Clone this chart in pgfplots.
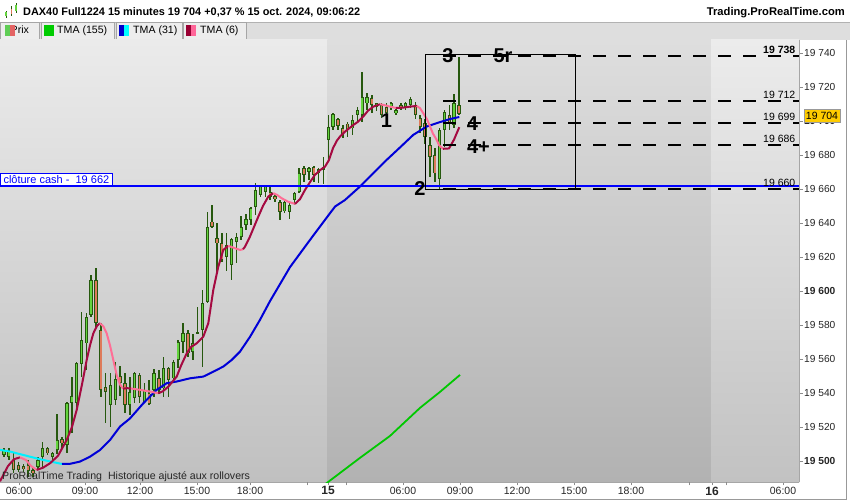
\documentclass[border=0pt]{standalone}
\usepackage{pgfplots}
\pgfplotsset{compat=1.18}
\usepackage{pgfplotstable}
\usepackage{fontspec}
\setmainfont{Liberation Sans}

\definecolor{wickc}{RGB}{38,88,14}
\definecolor{upc}{RGB}{100,212,62}
\definecolor{dnc}{RGB}{222,122,90}
\definecolor{crim}{RGB}{165,10,65}
\definecolor{pinkc}{RGB}{255,110,150}
\definecolor{bluec}{RGB}{0,0,215}
\definecolor{cyanc}{RGB}{0,240,255}
\definecolor{greenc}{RGB}{0,200,0}
\definecolor{hline}{RGB}{0,0,255}
\definecolor{tagy}{RGB}{255,204,0}
\definecolor{swg}{RGB}{95,205,85}
\definecolor{swr}{RGB}{228,100,100}
\definecolor{swgreen}{RGB}{0,204,0}
\definecolor{swblue}{RGB}{0,0,204}
\definecolor{swcyan}{RGB}{0,255,255}
\definecolor{swcrim}{RGB}{153,0,51}
\definecolor{swpink}{RGB}{255,102,153}
\definecolor{bgAt}{RGB}{235,235,235}
\definecolor{bgAb}{RGB}{192,192,192}
\definecolor{bgBt}{RGB}{222,222,222}
\definecolor{bgBb}{RGB}{178,178,178}
\definecolor{bgCt}{RGB}{236,236,236}
\definecolor{bgCb}{RGB}{194,194,194}

\pgfplotstableread{
i o h l c
0 19503.5 19507.5 19502.5 19506.5
1 19502.5 19507.5 19500.6 19506.0
2 19500.6 19504.5 19492.7 19494.7
3 19497.6 19499.6 19493.7 19495.0
4 19497.0 19498.6 19493.7 19495.0
5 19497.6 19500.6 19490.8 19494.0
6 19494.7 19496.7 19490.8 19493.0
7 19496.7 19502.5 19494.7 19500.6
8 19502.5 19511.4 19496.7 19507.5
9 19507.5 19508.4 19503.5 19504.5
10 19502.5 19505.5 19500.6 19505.0
11 19506.5 19528.0 19504.5 19512.3
12 19513.3 19514.3 19507.5 19510.4
13 19509.4 19534.9 19504.5 19533.9
14 19534.0 19549.6 19516.3 19538.0
15 19533.9 19558.4 19530.0 19557.4
16 19557.4 19587.8 19549.6 19571.2
17 19569.2 19587.0 19553.5 19585.0
18 19586.0 19609.4 19584.9 19606.4
19 19606.4 19613.3 19579.0 19581.0
20 19577.0 19581.0 19537.8 19541.7
21 19543.7 19551.6 19522.2 19540.8
22 19533.0 19551.6 19520.0 19545.0
23 19536.0 19558.0 19533.0 19548.0
24 19550.0 19556.0 19538.0 19546.0
25 19546.0 19552.0 19528.0 19533.0
26 19532.9 19549.6 19527.1 19540.8
27 19536.9 19552.5 19533.9 19552.0
28 19550.6 19551.6 19533.9 19537.8
29 19534.9 19545.7 19533.9 19541.8
30 19539.8 19547.6 19532.9 19533.9
31 19541.8 19554.5 19537.8 19551.6
32 19548.6 19553.5 19539.8 19541.8
33 19542.7 19561.4 19537.8 19554.5
34 19554.5 19555.5 19537.8 19547.6
35 19548.6 19559.4 19545.7 19558.4
36 19559.4 19571.2 19554.5 19570.2
37 19570.2 19581.0 19563.3 19575.1
38 19575.1 19577.1 19561.4 19563.3
39 19564.3 19575.1 19559.4 19569.2
40 19576.1 19590.8 19575.1 19575.1
41 19577.1 19600.6 19555.5 19592.7
42 19593.7 19646.7 19592.7 19637.8
43 19640.8 19650.6 19636.9 19637.8
44 19631.0 19639.8 19610.4 19628.0
45 19628.0 19633.9 19617.2 19618.2
46 19620.2 19633.9 19611.4 19627.0
47 19615.3 19631.0 19606.5 19630.4
48 19629.0 19633.9 19616.3 19632.0
49 19632.0 19644.1 19630.0 19637.9
50 19638.8 19645.3 19635.9 19642.2
51 19641.8 19649.6 19638.8 19648.6
52 19649.6 19663.4 19644.7 19659.4
53 19656.5 19662.4 19655.5 19661.8
54 19658.4 19662.4 19655.5 19661.8
55 19657.9 19661.8 19653.5 19655.5
56 19655.9 19657.5 19652.6 19653.9
57 19652.6 19653.5 19641.8 19646.7
58 19646.7 19653.5 19645.7 19652.0
59 19646.7 19651.6 19642.2 19650.6
60 19653.5 19658.4 19650.6 19657.9
61 19658.4 19672.2 19657.5 19669.6
62 19672.2 19673.5 19664.3 19668.3
63 19670.2 19673.1 19665.3 19672.2
64 19672.8 19673.5 19664.3 19668.3
65 19669.2 19672.2 19663.3 19671.6
66 19673.1 19679.0 19663.3 19671.2
67 19688.8 19703.5 19677.1 19696.7
68 19696.7 19704.5 19694.7 19704.1
69 19701.0 19701.6 19694.7 19697.1
70 19695.7 19697.6 19689.8 19691.8
71 19698.6 19699.6 19690.8 19694.7
72 19695.7 19703.5 19691.8 19700.6
73 19703.5 19708.4 19698.6 19706.5
74 19703.5 19729.0 19699.6 19714.3
75 19710.4 19716.7 19706.5 19714.3
76 19713.3 19715.3 19704.5 19709.4
77 19708.4 19710.4 19705.5 19710.4
78 19709.4 19710.4 19701.6 19703.5
79 19708.4 19710.4 19702.6 19704.5
80 19708.4 19711.4 19706.5 19710.8
81 19704.5 19707.5 19703.5 19706.5
82 19709.4 19710.4 19706.5 19707.5
83 19708.4 19711.4 19706.5 19710.4
84 19709.5 19714.0 19707.5 19713.0
85 19709.4 19711.3 19701.5 19703.5
86 19701.5 19703.5 19692.7 19696.6
87 19698.6 19701.5 19686.8 19690.8
88 19685.9 19690.8 19667.2 19679.0
89 19680.0 19683.9 19664.3 19669.2
90 19666.2 19695.7 19659.4 19694.7
91 19694.7 19706.4 19684.9 19705.5
92 19703.5 19709.4 19694.7 19698.6
93 19697.6 19716.2 19695.7 19710.4
94 19709.4 19738.0 19703.5 19704.0
}\candles

\begin{document}
\begin{tikzpicture}
\useasboundingbox (0pt,0pt) rectangle (850pt,500pt);
\fill[white] (0pt,0pt) rectangle (850pt,500pt);
% legend row
\fill[black!13] (0pt,460pt) rectangle (850pt,478pt);
\draw[black!30] (0pt,478pt) -- (850pt,478pt);
\foreach \a/\b in {0.5/39.5,41/114.5,116/182.5,183.5/246}{
  \draw[draw=black!35, fill=black!7] (\a pt,460.5pt) rectangle (\b pt,477.5pt);
}
\node[anchor=base west, inner sep=0, font=\fontsize{10.6}{12}\selectfont] at (10.5pt,466pt) {Prix};
\fill[swg] (5pt,464pt) rectangle (10pt,475pt);
\fill[swr] (10pt,464pt) rectangle (15pt,475pt);
\fill[swgreen] (44pt,464pt) rectangle (54pt,475pt);
\node[anchor=base west, inner sep=0, font=\fontsize{10.6}{12}\selectfont] at (57pt,466pt) {TMA (155)};
\fill[swblue] (119pt,464pt) rectangle (124pt,475pt);
\fill[swcyan] (124pt,464pt) rectangle (129pt,475pt);
\node[anchor=base west, inner sep=0, font=\fontsize{10.6}{12}\selectfont] at (133pt,466pt) {TMA (31)};
\fill[swcrim] (186pt,464pt) rectangle (191pt,475pt);
\fill[swpink] (191pt,464pt) rectangle (196pt,475pt);
\node[anchor=base west, inner sep=0, font=\fontsize{10.6}{12}\selectfont] at (200pt,466pt) {TMA (6)};
% title icon
\draw[wickc, line width=1pt] (6pt,482pt) -- (6pt,489pt) (11.5pt,484pt) -- (11.5pt,494pt) (16pt,487pt) -- (16pt,497pt);
\fill[upc] (5.2pt,483.5pt) rectangle (6.8pt,487.5pt);
\fill[dnc] (10.7pt,486pt) rectangle (12.3pt,491pt);
\fill[upc] (15.2pt,489pt) rectangle (16.8pt,495pt);
\node[anchor=base west, inner sep=0, font=\bfseries\fontsize{10.9}{12}\selectfont] at (23pt,484pt) {DAX40 Full1224 15 minutes 19 704 +0,37 \% 15 oct. 2024, 09:06:22};
\node[anchor=base east, inner sep=0, font=\bfseries\fontsize{11.2}{12}\selectfont] at (845pt,484pt) {Trading.ProRealTime.com};
% day backgrounds
\shade[top color=bgAt, bottom color=bgAb] (0pt,18pt) rectangle (327.7pt,460pt);
\shade[top color=bgBt, bottom color=bgBb] (327.7pt,18pt) rectangle (711pt,460pt);
\shade[top color=bgCt, bottom color=bgCb] (711pt,18pt) rectangle (799pt,460pt);

\begin{axis}[
  at={(0pt,18pt)}, anchor=south west, scale only axis,
  width=799pt, height=442pt,
  xmin=0, xmax=799, ymin=19487.6, ymax=19747.6,
  scaled y ticks=false, scaled x ticks=false,
  axis x line*=bottom, axis y line*=right,
  axis line style={black!35},
  tick align=outside, major tick length=3.5pt,
  major tick style={black!45},
  xtick={19,85,140,197,250,328,403,460,517,574,631,712,783},
  xticklabels={06:00,09:00,12:00,15:00,18:00,{\bfseries\fontsize{12}{12}\selectfont 15},06:00,09:00,12:00,15:00,18:00,{\bfseries\fontsize{12}{12}\selectfont 16},06:00},
  extra x ticks={307,346,689,726},
  extra x tick labels={},
  extra x tick style={major tick length=3.5pt},
  xticklabel style={font=\fontsize{10.5}{12}\selectfont, inner sep=1pt, text=black!85},
  ytick={19500,19520,...,19740},
  yticklabels={\textbf{19 500},19 520,19 540,19 560,19 580,\textbf{19 600},19 620,19 640,19 660,19 680,\textbf{19 700},19 720,19 740},
  yticklabel style={font=\fontsize{10.2}{12}\selectfont, anchor=west, inner sep=1.5pt, text=black!85},
]
% wicks
\addplot[draw=none, mark=none, error bars/.cd, y dir=both, y explicit, error mark=none,
  error bar style={draw=wickc, solid, line width=1.5pt}]
  table[x expr={4+4.84*\thisrow{i}}, y expr={(\thisrow{h}+\thisrow{l})/2}, y error expr={(\thisrow{h}-\thisrow{l})/2}] {\candles};
% bodies outline
\addplot[draw=none, mark=none, error bars/.cd, y dir=both, y explicit, error mark=none,
  error bar style={draw=wickc, solid, line width=3.3pt}]
  table[x expr={4+4.84*\thisrow{i}}, y expr={(\thisrow{o}+\thisrow{c})/2}, y error expr={max(abs(\thisrow{o}-\thisrow{c})/2,0.35)}] {\candles};
% up fills
\addplot[draw=none, mark=none, error bars/.cd, y dir=both, y explicit, error mark=none,
  error bar style={draw=upc, solid, line width=1.5pt}]
  table[x expr={4+4.84*\thisrow{i}}, y expr={(\thisrow{o}+\thisrow{c})/2}, y error expr={max((\thisrow{c}-\thisrow{o})/2-0.55,0)}] {\candles};
% down fills
\addplot[draw=none, mark=none, error bars/.cd, y dir=both, y explicit, error mark=none,
  error bar style={draw=dnc, solid, line width=1.5pt}]
  table[x expr={4+4.84*\thisrow{i}}, y expr={(\thisrow{o}+\thisrow{c})/2}, y error expr={max((\thisrow{o}-\thisrow{c})/2-0.55,0)}] {\candles};

% TMA 155
\addplot[greenc, line width=1.8pt, mark=none] coordinates {(320,19484) (360,19501.8) (390,19514.7) (420,19531.2) (440,19540.6) (460,19550.6)};
% TMA 31
\addplot[cyanc, line width=2pt, mark=none] coordinates {(0,19506.5) (10,19505.5) (20,19504) (30,19502.5) (40,19501) (50,19499.7) (62,19498.2)};
\addplot[bluec, line width=2pt, mark=none] coordinates {(62,19498.2) (70,19498.3) (80,19499.6) (90,19502.5) (100,19506.4) (110,19512.3) (120,19520.2) (130,19525) (143.3,19533.9) (156.7,19541.8) (166.7,19545.7) (176.7,19546.7) (190,19548.6) (203.3,19549.6) (213.3,19552.5) (223.3,19555.5) (231.7,19559.4) (240,19564.3) (250,19573) (260,19583) (270,19594) (280,19604) (290,19614) (300,19622) (310,19630) (325,19641.8) (335,19649.6) (345,19653.5) (360,19661.4) (373.3,19669.2) (386.7,19677.1) (400,19684.4) (413.3,19691.8) (426.7,19696.7) (440,19699.3) (450,19701.1) (459.3,19702.3)};
% TMA 6
\addplot[crim, line width=2pt, mark=none] coordinates {(0,19488) (8,19497) (14,19501) (20,19502.1)};
\addplot[pinkc, line width=2pt, mark=none] coordinates {(20,19502.1) (26,19500.5) (31,19497) (36.7,19494.7)};
\addplot[crim, line width=2pt, mark=none] coordinates {(36.7,19494.7) (43,19496) (50,19498.6) (58,19503) (66.7,19512.3) (72,19520) (76.7,19530) (82,19545) (86.7,19559.4) (90,19568) (93.3,19575) (97,19579.5) (100,19581)};
\addplot[pinkc, line width=2pt, mark=none] coordinates {(100,19581) (103.5,19579) (106.7,19575) (110,19568) (113.3,19559.4) (116.7,19550.5) (120,19545) (123,19542.5)};
\addplot[crim, line width=2pt, mark=none] coordinates {(123,19542.5) (127,19542.8) (131,19542.6)};
\addplot[pinkc, line width=2pt, mark=none] coordinates {(131,19542.6) (140,19541.8) (150,19540.8) (158.3,19539.8)};
\addplot[crim, line width=2pt, mark=none] coordinates {(158.3,19539.8) (163,19541) (168.3,19543.7) (176.7,19549.6) (181,19556) (186.7,19563.3) (191,19567) (196.7,19569.2) (203.3,19573.1) (208.3,19581) (213.3,19600.6) (218.3,19614.3) (223.3,19624.1) (228.3,19626.5)};
\addplot[pinkc, line width=2pt, mark=none] coordinates {(228.3,19626.5) (235,19625.1) (240,19624.1) (243,19624.5)};
\addplot[crim, line width=2pt, mark=none] coordinates {(243,19624.5) (245,19626) (250,19632) (258.3,19643.7) (263,19650) (268.3,19655.5) (273.3,19657.5)};
\addplot[pinkc, line width=2pt, mark=none] coordinates {(273.3,19657.5) (277,19656.5) (281.7,19654.5) (288,19652.5) (295,19651.2)};
\addplot[crim, line width=2pt, mark=none] coordinates {(295,19651.2) (300,19654) (305,19659.4) (310,19664) (315,19668.3) (320,19671) (325,19673.1) (329,19677) (333,19684) (337,19688.5) (340,19690.8) (345,19693.7) (353.3,19697.6) (358,19699.5) (363.3,19702.6) (368,19706) (373.3,19708.4) (380,19709.8)};
\addplot[pinkc, line width=2pt, mark=none] coordinates {(380,19709.8) (385,19709.2) (390,19708.4) (396,19707.6)};
\addplot[crim, line width=2pt, mark=none] coordinates {(396,19707.6) (403,19707.8) (410,19708.4) (416.7,19708.8)};
\addplot[pinkc, line width=2pt, mark=none] coordinates {(416.7,19708.8) (420,19707.5) (423.3,19704.5) (427,19701) (430,19696.7) (433,19692.5) (436.7,19688.8) (439,19685.8) (443,19683.6)};
\addplot[crim, line width=2pt, mark=none] coordinates {(443,19683.6) (449,19683.8) (454,19689) (459.3,19696.3)};

% close line
\addplot[hline, line width=2pt, mark=none] coordinates {(0,19662) (799,19662)};
% dashed levels
\addplot[black, line width=2pt, mark=none, dash pattern=on 13pt off 12pt] coordinates {(443,19738) (799,19738)};
\addplot[black, line width=2pt, mark=none, dash pattern=on 13pt off 12pt] coordinates {(443,19712) (799,19712)};
\addplot[black, line width=2pt, mark=none, dash pattern=on 13pt off 12pt] coordinates {(443,19699) (799,19699)};
\addplot[black, line width=2pt, mark=none, dash pattern=on 13pt off 12pt] coordinates {(443,19686) (799,19686)};
\addplot[black, line width=2pt, mark=none, dash pattern=on 13pt off 12pt] coordinates {(443,19660) (799,19660)};
% rectangle
\addplot[black, line width=0.8pt, mark=none] coordinates {(425,19739.2) (575,19739.2) (575,19659.6) (425,19659.6) (425,19739.2)};

\node[anchor=south east, inner sep=0.5pt, yshift=1.5pt, font=\bfseries\fontsize{10.5}{12}\selectfont] at (axis cs:796,19738) {19 738};
\node[anchor=south east, inner sep=0.5pt, yshift=1.5pt, font=\fontsize{10.5}{12}\selectfont] at (axis cs:796,19712) {19 712};
\node[anchor=south east, inner sep=0.5pt, yshift=1.5pt, font=\fontsize{10.5}{12}\selectfont] at (axis cs:796,19699) {19 699};
\node[anchor=south east, inner sep=0.5pt, yshift=1.5pt, font=\fontsize{10.5}{12}\selectfont] at (axis cs:796,19686) {19 686};
\node[anchor=south east, inner sep=0.5pt, yshift=1.5pt, font=\fontsize{10.5}{12}\selectfont] at (axis cs:796,19660) {19 660};

\node[inner sep=0, font=\bfseries\fontsize{20}{20}\selectfont] at (axis cs:448,19738.5) {3};
\node[inner sep=0, font=\bfseries\fontsize{20}{20}\selectfont] at (axis cs:503,19738.5) {5r};
\node[inner sep=0, font=\bfseries\fontsize{20}{20}\selectfont] at (axis cs:472.5,19698.5) {4};
\node[inner sep=0, font=\bfseries\fontsize{20}{20}\selectfont] at (axis cs:478.5,19685) {4+};
\node[inner sep=0, font=\bfseries\fontsize{20}{20}\selectfont] at (axis cs:420,19660.3) {2};
\node[inner sep=0, font=\bfseries\fontsize{20}{20}\selectfont] at (axis cs:386.5,19700.3) {1};

\node[anchor=south west, draw=hline, line width=1pt, fill=white, text=hline, inner xsep=3pt, inner ysep=1.5pt, font=\fontsize{11}{12}\selectfont] at (axis cs:0,19662) {clôture cash -\ \ 19 662};
\end{axis}
% footer text
\node[anchor=base west, inner sep=0, font=\fontsize{10.6}{12}\selectfont, text=black!85] at (2pt,20.5pt) {ProRealTime Trading\ \ Historique ajusté aux rollovers};
% price tag
\node[fill=tagy, draw=black!40, inner sep=0, minimum width=36pt, minimum height=13pt, font=\fontsize{10.5}{12}\selectfont] at (822pt,384.5pt) {19 704};
% frame
\draw[black!40] (846pt,0pt) -- (846pt,460pt);
\draw[black!40] (0pt,0.5pt) -- (846pt,0.5pt);
\end{tikzpicture}
\end{document}
